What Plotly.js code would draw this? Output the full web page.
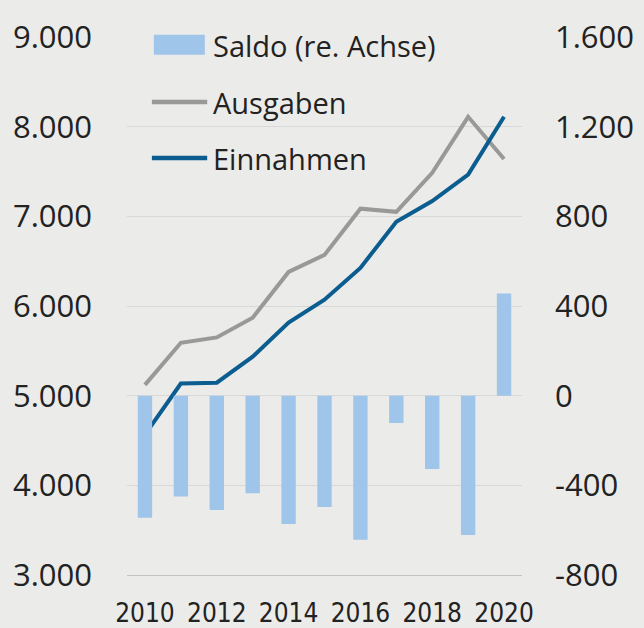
<!DOCTYPE html>
<html>
<head>
<meta charset="utf-8">
<script src="https://cdn.plot.ly/plotly-3.0.1.min.js"></script>
<style>
html,body{margin:0;padding:0;background:#ebebe9;}
#chart{width:644px;height:628px;}
</style>
</head>
<body>
<div id="chart"></div>
<script>
// Data
const years = [2010, 2011, 2012, 2013, 2014, 2015, 2016, 2017, 2018, 2019, 2020];
const ausgaben = [5120, 5590, 5650, 5870, 6380, 6570, 7085, 7050, 7485, 8110, 7640];
const einnahmen = [4565, 5135, 5145, 5435, 5815, 6070, 6425, 6940, 7170, 7465, 8110];
const saldo = [-545, -450, -510, -435, -572, -497, -643, -122, -327, -622, 456];
const seriesNames = ["Saldo (re. Achse)", "Ausgaben", "Einnahmen"];
const xTickVals = [2010, 2012, 2014, 2016, 2018, 2020];
const yLeftTicks = [3000, 4000, 5000, 6000, 7000, 8000, 9000];
const yLeftLabels = ["3.000", "4.000", "5.000", "6.000", "7.000", "8.000", "9.000"];
const yRightTicks = [-800, -400, 0, 400, 800, 1200, 1600];
const yRightLabels = ["-800", "-400", "0", "400", "800", "1.200", "1.600"];

const colors = {bar: "#9fc5ea", ausgaben: "#999999", einnahmen: "#0b5c8f"};

const traces = [
  {type: "bar", x: years, y: saldo, name: seriesNames[0], yaxis: "y2",
   marker: {color: colors.bar}, width: 0.4, hoverinfo: "x+y"},
  {type: "scatter", mode: "lines", x: years, y: ausgaben, name: seriesNames[1],
   line: {color: colors.ausgaben, width: 4}},
  {type: "scatter", mode: "lines", x: years, y: einnahmen, name: seriesNames[2],
   line: {color: colors.einnahmen, width: 4}}
];

const tickFont = {family: "Open Sans, sans-serif", size: 31, color: "#222222"};

// legend built from shapes + annotations (paper coords)
const legY = [0.985, 0.879, 0.775];
const shapes = [
  {type: "rect", xref: "paper", yref: "paper", x0: 0.068, x1: 0.197, y0: 0.967, y1: 1.004,
   fillcolor: colors.bar, line: {width: 0}},
  {type: "line", xref: "paper", yref: "paper", x0: 0.063, x1: 0.203, y0: legY[1], y1: legY[1],
   line: {color: colors.ausgaben, width: 4.5}},
  {type: "line", xref: "paper", yref: "paper", x0: 0.063, x1: 0.203, y0: legY[2], y1: legY[2],
   line: {color: colors.einnahmen, width: 4.5}}
];
const annotations = seriesNames.map((n, i) => ({
  xref: "paper", yref: "paper", x: 0.2127, y: legY[i], xanchor: "left", yanchor: "middle",
  text: n, showarrow: false, font: {family: "Open Sans, sans-serif", size: 29, color: "#222222"}
}));

const layout = {
  width: 644, height: 628,
  margin: {l: 127, r: 122, t: 37, b: 53, pad: 0},
  paper_bgcolor: "#ebebe9", plot_bgcolor: "#ebebe9",
  showlegend: false,
  xaxis: {
    type: "linear", range: [2009.5, 2020.5], tickvals: xTickVals, tickformat: "d",
    showgrid: false, zeroline: false, showline: true, linecolor: "#c4c4c4", linewidth: 1,
    ticks: "", ticklabelstandoff: 15,
    tickfont: {family: "Liberation Sans Narrow, DejaVu Sans Condensed, Open Sans, sans-serif", size: 26, color: "#222222"}
  },
  yaxis: {
    range: [3000, 9000], tickvals: yLeftTicks, ticktext: yLeftLabels,
    showgrid: true, gridcolor: "#d8d8d8", gridwidth: 1, zeroline: false,
    ticks: "", ticklabelstandoff: 34, tickfont: tickFont
  },
  yaxis2: {
    range: [-800, 1600], tickvals: yRightTicks, ticktext: yRightLabels,
    overlaying: "y", side: "right", showgrid: false, zeroline: false,
    ticks: "", ticklabelstandoff: 32, tickfont: tickFont
  },
  shapes: shapes,
  annotations: annotations
};

Plotly.newPlot("chart", traces, layout, {displayModeBar: false, staticPlot: true});
</script>
</body>
</html>
